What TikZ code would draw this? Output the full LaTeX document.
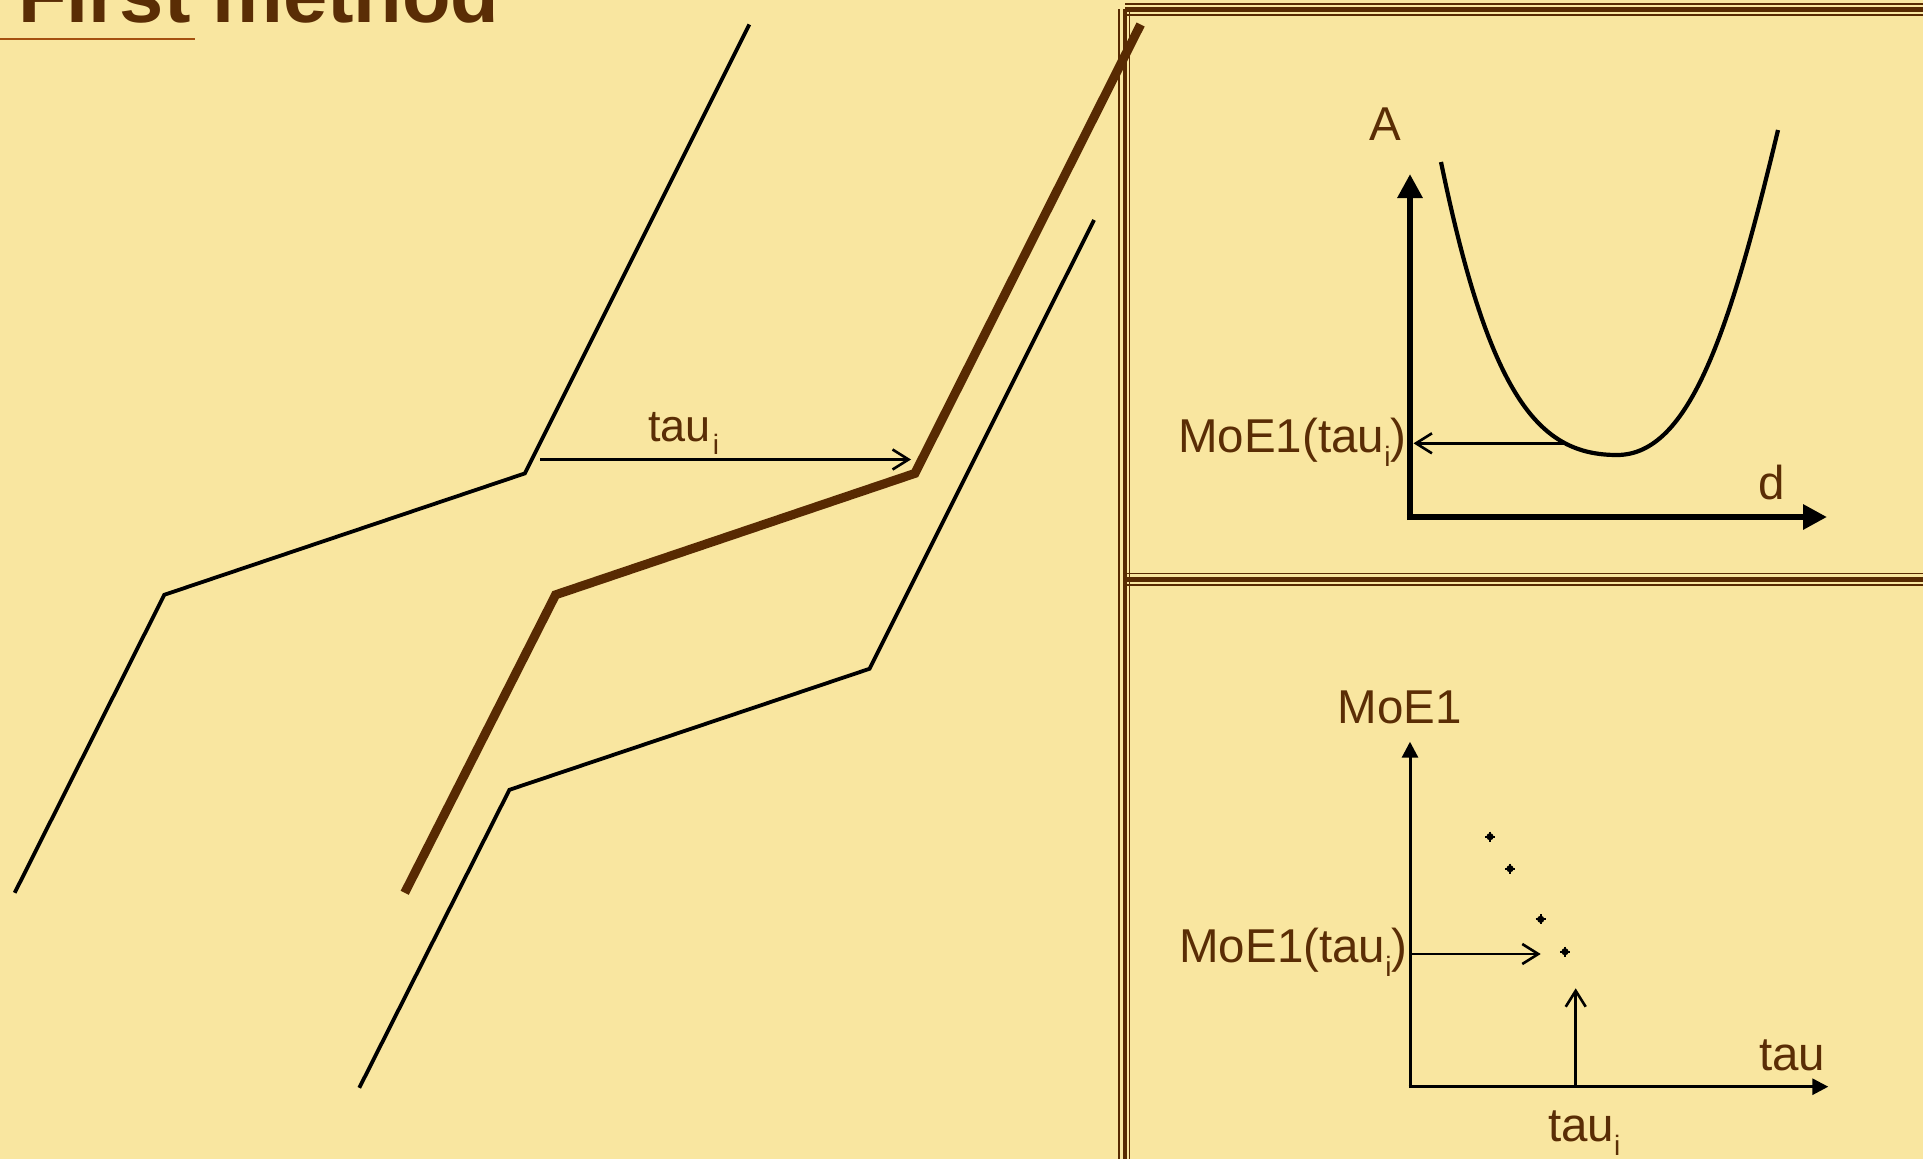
\documentclass[tikz,border=0pt]{standalone}
\usepackage{fontspec}
\setmainfont{Liberation Sans}
\usetikzlibrary{arrows.meta}
\definecolor{bgc}{RGB}{249,230,160}
\definecolor{txtc}{RGB}{90,45,5}
\definecolor{brn}{RGB}{88,42,2}
\definecolor{ulinec}{RGB}{165,80,15}
\newcommand\lblfont{\fontsize{47.5}{56}\selectfont}
\newcommand\smlfont{\fontsize{45}{54}\selectfont}
\newcommand\lsub[1]{\raisebox{-14pt}{\fontsize{28}{28}\selectfont #1}}
\newcommand\ssub[1]{\raisebox{-13pt}{\fontsize{28}{28}\selectfont #1}}
\begin{document}
\begin{tikzpicture}[x=1pt,y=-1pt,
  thinline/.style={line width=3.8pt, line join=miter, black},
  thickline/.style={line width=9pt, brn, line join=miter},
  lab/.style={inner sep=0pt, text=txtc, font=\lblfont},
  fthick/.style={brn, line width=4.6pt},
  fthin/.style={brn, line width=1.8pt},
  openarrow/.style={line width=2.6pt, -{Straight Barb[length=16pt,width=20pt]}},
  bigaxis/.style={line width=6.5pt, -{Triangle[length=24pt,width=24pt]}},
  smallaxis/.style={line width=3pt, -{Triangle[length=16pt,width=16pt]}},
  dotm/.pic={\fill (0,0) circle (3.6); \draw[line width=1.8pt] (-5,0)--(5,0) (0,-5)--(0,5);}
]
\fill[bgc] (0,0) rectangle (1923,1159);
\useasboundingbox (0,0) rectangle (1923,1159);

% title
\node[inner sep=0pt, anchor=base west, text=txtc, font=\fontsize{79.5}{90}\selectfont\bfseries] (title) at (18,22) {First method};
\coordinate (ul1) at (0,39);
\coordinate (ul2) at (195,39);
\draw[ulinec, line width=2.6pt] (ul1) -- (ul2);

% frame (triple lines)
\draw[fthick] (1125,9) -- (1125,1159);
\draw[fthin] (1119.2,9) -- (1119.2,1159);
\draw[fthin] (1129.5,9) -- (1129.5,1159);
\draw[fthick] (1125,9.3) -- (1923,9.3);
\draw[fthin] (1125,3.7) -- (1923,3.7);
\draw[fthin] (1125,14.6) -- (1923,14.6);
\draw[fthick] (1126,579.5) -- (1923,579.5);
\draw[fthin] (1126,573.4) -- (1923,573.4);
\draw[fthin] (1126,585) -- (1923,585);

% left lines
\coordinate (a1) at (14.7,892.8);
\coordinate (a2) at (164.3,594.8);
\coordinate (a3) at (524.9,473.4);
\coordinate (a4) at (749.3,24.5);
\coordinate (b1) at (404.7,892.8);
\coordinate (b2) at (555.6,594.8);
\coordinate (b3) at (914.9,473.4);
\coordinate (b4) at (1140.6,24.5);
\coordinate (c1) at (359.3,1087.8);
\coordinate (c2) at (509.4,789.8);
\coordinate (c3) at (869.5,668.8);
\coordinate (c4) at (1094,220);
\draw[thinline] (a1) -- (a2) -- (a3) -- (a4);
\draw[thickline] (b1) -- (b2) -- (b3) -- (b4);
\draw[thinline] (c1) -- (c2) -- (c3) -- (c4);

\coordinate (t1) at (540,459.5);
\coordinate (t2) at (911,459.5);
\draw[openarrow] (t1) -- (t2);
\node[inner sep=0pt, anchor=base west, text=txtc, font=\smlfont] (taulbl) at (648,441) {tau\hspace{2pt}\ssub{i}};

% top-right plot
\coordinate (o1) at (1410,517);
\coordinate (y1) at (1410,174);
\coordinate (x1) at (1827,517);
\draw[bigaxis] (1410,520.2) -- (y1);
\draw[bigaxis] (1406.8,517) -- (x1);
\node[lab, anchor=base] (Alab) at (1385,140.7) {A};
\node[lab, anchor=base] (dlab) at (1772,499) {d};
\coordinate (cv1) at (1441,162);
\coordinate (cvm) at (1617,455);
\coordinate (cv2) at (1778,130);
\draw[line width=4.2pt] (cv1) .. controls (1490,400) and (1540,455) .. (cvm)
  .. controls (1690,455) and (1730,330) .. (cv2);
\coordinate (h1) at (1566,443.3);
\coordinate (h2) at (1413.5,443.3);
\draw[openarrow] (h1) -- (h2);
\node[lab, anchor=base east] (moeA) at (1406.5,452.7) {MoE1(tau\lsub{i})};

% bottom-right plot
\coordinate (o2) at (1410,1086.7);
\coordinate (y2) at (1410,741.7);
\coordinate (x2) at (1828.3,1086.7);
\draw[smallaxis] (1410,1088.2) -- (y2);
\draw[smallaxis] (1408.5,1086.7) -- (x2);
\node[lab, anchor=base] (moeT) at (1400,723.3) {MoE1};
\node[lab, anchor=base west] (taux) at (1759,1070) {tau};
\node[lab, anchor=base west] (taui) at (1548,1141.7) {tau\lsub{i}};
\node[lab, anchor=base east] (moeB) at (1407.5,962.7) {MoE1(tau\lsub{i})};
\pic (d1) at (1490,836.7) {dotm};
\pic (d2) at (1510,868.7) {dotm};
\pic (d3) at (1540.7,919.3) {dotm};
\pic (d4) at (1565,951.7) {dotm};
\coordinate (hb1) at (1411.5,954);
\coordinate (hb2) at (1540.7,954);
\draw[openarrow] (hb1) -- (hb2);
\coordinate (vb1) at (1575.7,1086.7);
\coordinate (vb2) at (1575.7,988.3);
\draw[openarrow] (vb1) -- (vb2);
\end{tikzpicture}
\end{document}
